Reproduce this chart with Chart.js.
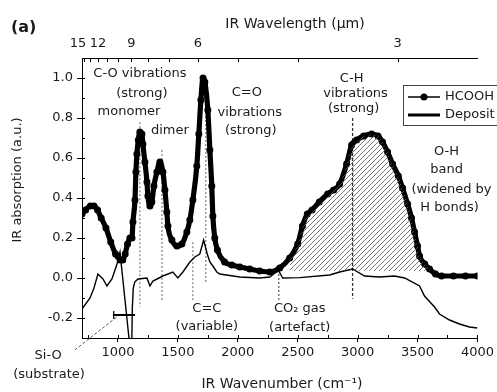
<!DOCTYPE html>
<html><head><meta charset="utf-8">
<script src="https://cdn.jsdelivr.net/npm/chart.js@4.4.1/dist/chart.umd.min.js"></script>
<style>html,body{margin:0;padding:0;background:#fff;}canvas{display:block;}</style>
</head><body>
<canvas id="c" width="497" height="392"></canvas>
<script>
// ---- data ----
const hcoohWavenumber = [700,730,770,800,830,860,900,940,980,1020,1040,1060,1080,1100,1117,1125,1142,1150,1158,1170,1183,1200,1208,1225,1242,1250,1267,1283,1300,1325,1350,1375,1392,1408,1417,1450,1492,1533,1575,1600,1625,1658,1675,1692,1710,1725,1750,1767,1783,1792,1808,1830,1890,1950,2017,2100,2183,2267,2350,2433,2500,2540,2580,2620,2680,2750,2800,2850,2908,2950,2992,3050,3117,3170,3208,3250,3292,3340,3375,3417,3450,3475,3500,3517,3560,3600,3650,3700,3800,3900,4000];
const hcoohAbsorption = [0.32,0.34,0.36,0.36,0.34,0.30,0.25,0.18,0.12,0.09,0.09,0.12,0.17,0.20,0.20,0.28,0.39,0.53,0.62,0.69,0.73,0.72,0.67,0.58,0.48,0.41,0.36,0.38,0.46,0.53,0.58,0.53,0.44,0.33,0.26,0.19,0.16,0.17,0.23,0.29,0.39,0.56,0.72,0.89,1.0,0.98,0.84,0.64,0.46,0.31,0.20,0.14,0.08,0.065,0.055,0.045,0.035,0.03,0.05,0.10,0.17,0.26,0.32,0.34,0.38,0.42,0.44,0.47,0.57,0.665,0.69,0.71,0.72,0.71,0.68,0.63,0.57,0.51,0.45,0.37,0.30,0.23,0.16,0.11,0.07,0.045,0.02,0.01,0.01,0.01,0.01];
const depositWavenumber = [700,767,800,833,875,908,950,992,1017,1092,1105,1112,1120,1128,1140,1167,1242,1267,1292,1375,1458,1500,1542,1600,1642,1683,1715,1745,1767,1792,1825,1850,2017,2183,2267,2300,2333,2375,2517,2767,2850,2958,3058,3183,3308,3392,3517,3558,3642,3683,3767,3850,3933,4000];
const depositAbsorption = [-0.155,-0.10,-0.05,0.02,-0.005,-0.04,-0.005,0.07,0.13,-0.30,-0.45,-0.45,-0.15,-0.05,-0.02,-0.005,0.0,-0.04,-0.015,0.01,0.03,0.0,0.03,0.08,0.105,0.12,0.19,0.12,0.08,0.06,0.03,0.02,0.005,0.0,0.005,0.02,0.045,0.0,0.002,0.015,0.03,0.045,0.01,0.005,0.01,0.0,-0.04,-0.09,-0.145,-0.18,-0.21,-0.23,-0.245,-0.25];
const xTickValues = [1000,1500,2000,2500,3000,3500,4000];
const yTickValues = [-0.2,0.0,0.2,0.4,0.6,0.8,1.0];
const wavelengthLabels = [15,12,9,6,3];
const wavelengthMinor = [14,13,12,11,10,9,8,7,6,5,4,3];
const hatchRange = [2380,3620];
const hatchBase = 0.035;

// annotations in data units (wavenumber, absorption)
const annotationTexts = [
 ['C-O vibrations',1183,1.022],['(strong)',1200,0.923],['monomer',1092,0.834],['dimer',1433,0.739],
 ['C=O',2075,0.928],['vibrations',2100,0.829],['(strong)',2108,0.739],
 ['C-H',2950,0.998],['vibrations',2983,0.923],['(strong)',2967,0.849],
 ['O-H',3742,0.63],['band',3742,0.541],['(widened by',3783,0.442],['H bonds)',3767,0.352],
 ['C=C',1742,-0.154],['(variable)',1742,-0.243],
 ['CO\u2082 gas',2517,-0.154],['(artefact)',2517,-0.248],
 ['Si-O',417,-0.387],['(substrate)',425,-0.481]
];
const guides = [
 [1183,0.779,-0.144,'#888',[2,2]],[1367,0.64,-0.114,'#888',[2,2]],[1625,0.179,-0.114,'#888',[2,2]],
 [1733,0.95,-0.02,'#888',[2,2]],[2342,0.02,-0.114,'#666',[2,2]],[2958,0.80,-0.104,'#333',[3,2]]
];

const FONT = '"DejaVu Sans", sans-serif';
const canvas = document.getElementById('c');
const mainCtx = canvas.getContext('2d');
function makeHatch(){
  const c=document.createElement('canvas'); c.width=5; c.height=5;
  const g=c.getContext('2d'); g.strokeStyle='#555'; g.lineWidth=0.8;
  g.beginPath(); g.moveTo(0,5); g.lineTo(5,0); g.moveTo(-1,1); g.lineTo(1,-1); g.moveTo(4,6); g.lineTo(6,4); g.stroke();
  return mainCtx.createPattern(c,'repeat');
}
const pts = (xs,ys)=>xs.map((x,i)=>({x:x,y:ys[i]}));
const hcoohPts = pts(hcoohWavenumber,hcoohAbsorption);
const hatchPts = hcoohPts.filter(p=>p.x>=hatchRange[0]&&p.x<=hatchRange[1]);

const overlay = {
  id:'overlay',
  beforeDatasetsDraw(chart){
    const ctx=chart.ctx, xs=chart.scales.x, ys=chart.scales.y;
    ctx.save(); ctx.lineWidth=1.3;
    guides.forEach(g=>{
      ctx.strokeStyle=g[3]; ctx.setLineDash(g[4]); ctx.beginPath();
      const px=xs.getPixelForValue(g[0]);
      ctx.moveTo(px,ys.getPixelForValue(g[1])); ctx.lineTo(px,ys.getPixelForValue(g[2])); ctx.stroke();
    });
    // Si-O leader
    ctx.strokeStyle='#555'; ctx.setLineDash([3,2]); ctx.lineWidth=1;
    ctx.beginPath(); ctx.moveTo(xs.getPixelForValue(640),ys.getPixelForValue(-0.36));
    ctx.lineTo(xs.getPixelForValue(1000),ys.getPixelForValue(-0.19)); ctx.stroke();
    ctx.setLineDash([]); ctx.strokeStyle='#000'; ctx.lineWidth=2;
    ctx.beginPath(); ctx.moveTo(xs.getPixelForValue(958),ys.getPixelForValue(-0.185));
    ctx.lineTo(xs.getPixelForValue(1142),ys.getPixelForValue(-0.185)); ctx.stroke();
    ctx.lineWidth=1.2; ctx.beginPath();
    ctx.moveTo(xs.getPixelForValue(965),ys.getPixelForValue(-0.165)); ctx.lineTo(xs.getPixelForValue(965),ys.getPixelForValue(-0.205)); ctx.stroke();
    ctx.restore();
  },
  afterDraw(chart){
    const ctx=chart.ctx, xs=chart.scales.x, ys=chart.scales.y, a=chart.chartArea;
    ctx.save();
    // minor/inward ticks
    ctx.strokeStyle='#000'; ctx.lineWidth=1; ctx.beginPath();
    wavelengthMinor.forEach(l=>{const px=Math.round(xs.getPixelForValue(10000/l))+0.5; if(px>=a.left&&px<=a.right){ctx.moveTo(px,a.top);ctx.lineTo(px,a.top+4);} });
    for(let v=750;v<=4000;v+=250){const px=Math.round(xs.getPixelForValue(v))+0.5; ctx.moveTo(px,a.bottom);ctx.lineTo(px,a.bottom-3);}
    for(let v=-0.3;v<=1.1;v+=0.1){const py=Math.round(ys.getPixelForValue(v))+0.5; ctx.moveTo(a.left,py);ctx.lineTo(a.left+3,py);}
    ctx.stroke();
    // annotation texts
    ctx.fillStyle='#1a1a1a'; ctx.textAlign='center'; ctx.textBaseline='middle'; ctx.font='13px '+FONT;
    annotationTexts.forEach(t=>ctx.fillText(t[0],xs.getPixelForValue(t[1]),ys.getPixelForValue(t[2])));
    // titles
    ctx.font='14px '+FONT;
    ctx.fillText('IR Wavelength (\u03bcm)',295,24);
    ctx.fillText('IR Wavenumber (cm\u207b\u00b9)',282,384);
    ctx.save(); ctx.translate(18,180); ctx.rotate(-Math.PI/2); ctx.font='13px '+FONT; ctx.fillText('IR absorption (a.u.)',0,0); ctx.restore();
    ctx.font='bold 16px '+FONT; ctx.textAlign='left'; ctx.fillText('(a)',11,28);
    // legend
    ctx.fillStyle='#fff'; ctx.fillRect(403,85,100,40); ctx.strokeStyle='#444'; ctx.lineWidth=1; ctx.strokeRect(403.5,85.5,100,40);
    const ds=chart.data.datasets.filter(d=>d.label);
    ds.forEach((d,i)=>{
      const y=97+i*18;
      ctx.strokeStyle='#000'; ctx.lineWidth=(i===0)?1.5:3; ctx.beginPath(); ctx.moveTo(408,y); ctx.lineTo(440,y); ctx.stroke();
      if(i===0){ctx.fillStyle='#000';ctx.beginPath();ctx.arc(424,y,3.5,0,Math.PI*2);ctx.fill();}
      ctx.fillStyle='#1a1a1a'; ctx.font='13px '+FONT; ctx.textAlign='left'; ctx.fillText(d.label,445,y);
    });
    ctx.restore();
  }
};

new Chart(canvas,{
  type:'scatter',
  data:{datasets:[
    {label:'',data:hatchPts,showLine:true,borderWidth:0,pointRadius:0,fill:{value:hatchBase},backgroundColor:makeHatch(),cubicInterpolationMode:'monotone',borderColor:'rgba(0,0,0,0)'},
    {label:'HCOOH',data:hcoohPts,showLine:true,borderColor:'#000',borderWidth:5.2,pointRadius:3.5,pointBackgroundColor:'#000',pointBorderWidth:0,cubicInterpolationMode:'monotone'},
    {label:'Deposit',data:pts(depositWavenumber,depositAbsorption),showLine:true,borderColor:'#000',borderWidth:1.4,pointRadius:0}
  ]},
  options:{
    responsive:false,animation:false,devicePixelRatio:1,
    layout:{padding:{left:0,right:19,top:0,bottom:0}},
    plugins:{legend:{display:false},tooltip:{enabled:false}},
    scales:{
      x:{type:'linear',position:'bottom',min:700,max:4000,
        afterBuildTicks:s=>{s.ticks=xTickValues.map(v=>({value:v}));},
        afterFit:s=>{s.height=54;},
        ticks:{autoSkip:false,maxRotation:0,padding:3,color:'#1a1a1a',font:{family:FONT,size:13},callback:v=>String(v)},
        grid:{drawOnChartArea:false,drawTicks:true,tickLength:4,color:'#000'},
        border:{display:true,color:'#000',width:1}},
      x2:{type:'linear',position:'top',min:700,max:4000,
        afterBuildTicks:s=>{s.ticks=wavelengthLabels.map(l=>({value:10000/l}));},
        afterFit:s=>{s.height=58;},
        ticks:{autoSkip:false,maxRotation:0,padding:7,color:'#1a1a1a',font:{family:FONT,size:13},callback:v=>String(Math.round(10000/v))},
        grid:{drawOnChartArea:false,drawTicks:false},
        border:{display:true,color:'#000',width:1}},
      y:{type:'linear',position:'left',min:-0.3,max:1.1,
        afterBuildTicks:s=>{s.ticks=yTickValues.map(v=>({value:v}));},
        afterFit:s=>{s.width=82;},
        ticks:{autoSkip:false,padding:4,color:'#1a1a1a',font:{family:FONT,size:13},callback:v=>v.toFixed(1)},
        grid:{drawOnChartArea:false,drawTicks:true,tickLength:5,color:'#000'},
        border:{display:true,color:'#000',width:1}}
    }
  },
  plugins:[overlay]
});
</script>
</body></html>
